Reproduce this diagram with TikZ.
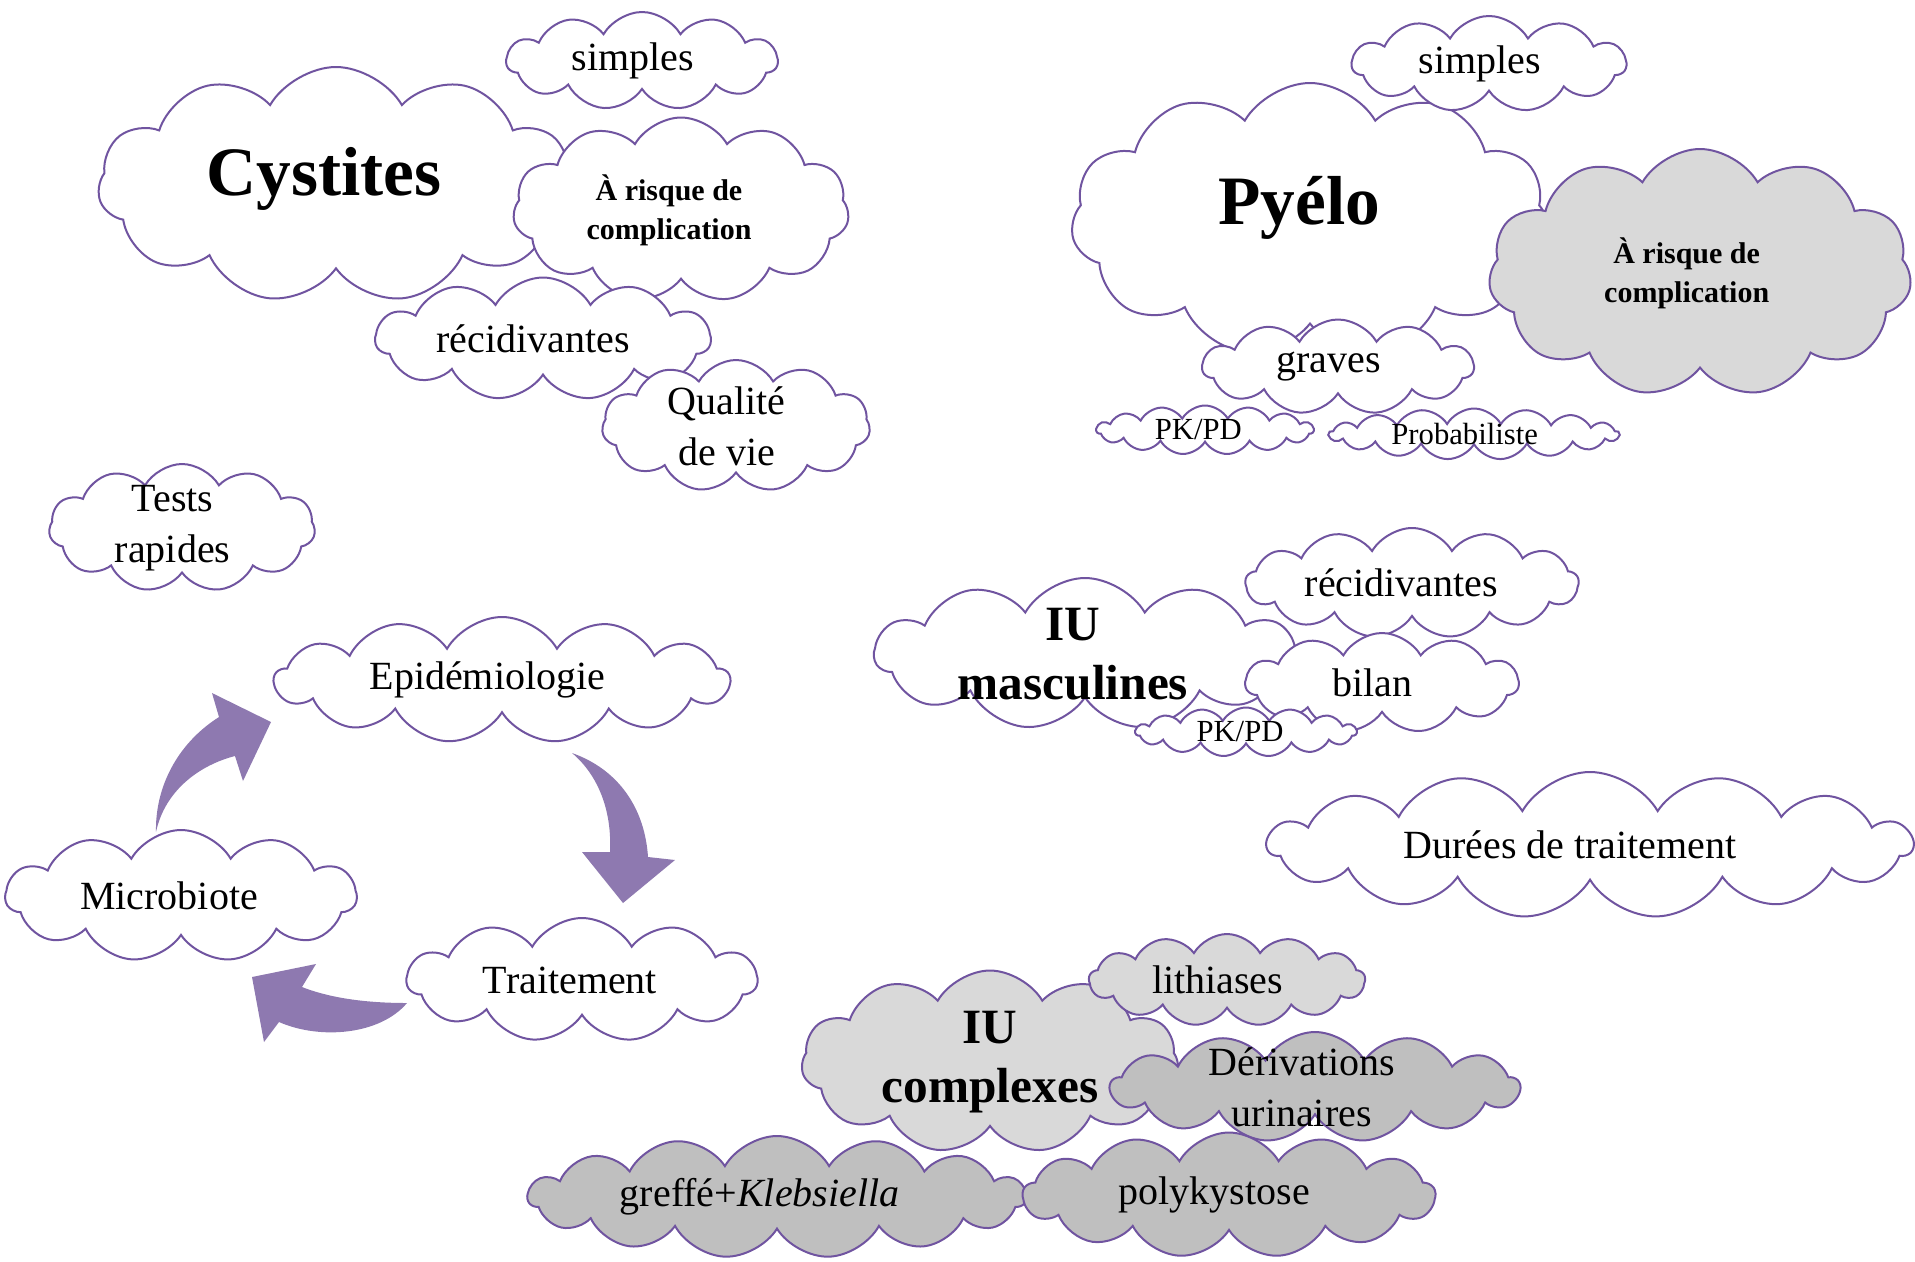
\documentclass[tikz,border=0pt]{standalone}
\usepackage{fontspec}
\setmainfont{Liberation Serif}
\usetikzlibrary{shapes.symbols}
\definecolor{bordnuage}{RGB}{112,84,160}
\definecolor{flecheviolet}{RGB}{142,121,176}
\definecolor{grisclair}{RGB}{217,217,217}
\definecolor{grisfonce}{RGB}{191,191,191}
\newcommand{\tailletitre}{\fontsize{52}{60}\selectfont\bfseries}
\newcommand{\taillegras}{\fontsize{37}{44}\selectfont\bfseries}
\newcommand{\taillerisque}{\fontsize{22.5}{29}\selectfont\bfseries}
\newcommand{\taillenormale}{\fontsize{30}{38}\selectfont}
\newcommand{\taillepetite}{\fontsize{23}{28}\selectfont}
\tikzset{every picture/.style={line width=0.75pt}}
\tikzset{
  nuage/.style={cloud, cloud puffs=11, cloud puff arc=120, cloud ignores aspect,
    draw=bordnuage, line width=1.5pt, fill=white, inner sep=0pt},
  nuageclair/.style={nuage, fill=grisclair},
  nuagefonce/.style={nuage, fill=grisfonce},
  large/.style={cloud puffs=13},
  tresLarge/.style={cloud puffs=15},
  taille/.style 2 args={minimum width=#1*0.75pt, minimum height=#2*0.75pt},
  etiq/.style={align=center, inner sep=0pt, font=\taillenormale},
  fleche/.style={fill=flecheviolet, draw=none}
}

\begin{document}
\begin{tikzpicture}[x=0.75pt,y=0.75pt,yscale=-1,xscale=1]
\useasboundingbox (0,0) rectangle (1915,1261);

%Cystites
\node [nuage, taille={476}{236}, label={[etiq, font=\tailletitre, xshift=-9pt, yshift=4.5pt]center:Cystites}] (cyst) at (336,185) {};
\node [nuage, taille={271}{98}, label={[etiq, xshift=-7pt]center:simples}] (cystsimp) at (642,61) {};
\node [nuage, taille={336}{185}, label={[etiq, font=\taillerisque, xshift=-9pt]center:{À risque de\\complication}}] (cystrisque) at (681,210) {};
\node [nuage, taille={335}{123}, label={[etiq, xshift=-7.5pt]center:récidivantes}] (cystrec) at (543,339) {};
\node [nuage, taille={268}{132}, label={[etiq, xshift=-7pt]center:{Qualité\\de vie}}] (qualite) at (736,426) {};

% Tests
\node [nuage, taille={266}{128}, label={[etiq, xshift=-7pt]center:{Tests\\rapides}}] (tests) at (182,528) {};

%Pyélo
\node [nuage, taille={478}{274}, label={[etiq, font=\tailletitre, xshift=-8pt, yshift=9pt]center:Pyélo}] (pyelo) at (1310,220) {};
\node [nuage, taille={274}{96}, label={[etiq, xshift=-7pt]center:simples}] (pyesimp) at (1489,64) {};
\node [nuageclair, taille={423}{248}, label={[etiq, font=\taillerisque, xshift=-10pt]center:{À risque de\\complication}}] (pyerisque) at (1700,273) {};
\node [nuage, taille={271}{95}, label={[etiq, xshift=-7pt]center:graves}] (graves) at (1338,367) {};
\node [nuage, tresLarge, taille={217}{49}, label={[etiq, font=\taillepetite, xshift=-5pt]center:PK/PD}] (pkpdun) at (1205,430) {};
\node [nuage, cloud puffs=17, taille={290}{51}, label={[etiq, font=\taillepetite, xshift=-7pt]center:Probabiliste}] (proba) at (1474,434) {};

%IU masculines
\node [nuage, taille={421}{152}, label={[etiq, font=\taillegras, xshift=-9pt]center:{IU\\masculines}}] (masc) at (1085,654) {};
\node [nuage, large, taille={333}{110}, label={[etiq, xshift=-8pt]center:récidivantes}] (mascrec) at (1412,583) {};
\node [nuage, taille={273}{100}, label={[etiq, xshift=-7pt]center:bilan}] (bilan) at (1382,683) {};
\node [nuage, tresLarge, taille={221}{49}, label={[etiq, font=\taillepetite, xshift=-4.5pt]center:PK/PD}] (pkpddeux) at (1246,732) {};

% Durées
\node [nuage, tresLarge, taille={645}{146}, label={[etiq, xshift=-15pt]center:Durées de traitement}] (durees) at (1590,845) {};

%Cycle
\node [nuage, large, taille={455}{126}, label={[etiq, xshift=-11pt]center:Epidémiologie}] (epid) at (502,680) {};
\node [nuage, taille={351}{132}, label={[etiq, xshift=-9pt]center:Microbiote}] (micro) at (181,896) {};
\node [nuage, taille={350}{124}, label={[etiq, xshift=-9pt]center:Traitement}] (trait) at (582,980) {};

%Fleches du cycle
\fill [fleche] (156,832) .. controls (155,790) and (175,745) .. (219,717)
  -- (212,693) -- (271,722) -- (243,781) -- (235,756)
  .. controls (200,765) and (165,790) .. (156,832) -- cycle;
\fill [fleche] (572,753) .. controls (598,775) and (612,810) .. (610,852)
  -- (582,852) -- (623,903) -- (675,860) -- (648,857)
  .. controls (645,810) and (620,770) .. (572,753) -- cycle;
\fill [fleche] (407,1003) .. controls (375,1003) and (335,1000) .. (302,987)
  -- (316,964) -- (252,977) -- (264,1042) -- (279,1022)
  .. controls (320,1040) and (380,1035) .. (407,1003) -- cycle;

%IU complexes
\node [nuageclair, taille={377}{183}, label={[etiq, font=\taillegras]center:{IU\\complexes}}] (compl) at (990,1062) {};
\node [nuageclair, large, taille={276}{92}, label={[etiq, xshift=-7pt]center:lithiases}] (lith) at (1227,980) {};
\node [nuagefonce, tresLarge, taille={498}{122}, label={[etiq, xshift=-13pt]center:greffé+\textit{Klebsiella}}] (greffe) at (777,1197) {};
\node [nuagefonce, large, taille={412}{125}, label={[etiq, xshift=-11pt]center:polykystose}] (polyk) at (1229,1195) {};
\node [nuagefonce, large, taille={409}{110}, label={[etiq, xshift=-10pt]center:{Dérivations\\urinaires}}] (deriv) at (1315,1087) {};

\end{tikzpicture}
\end{document}
